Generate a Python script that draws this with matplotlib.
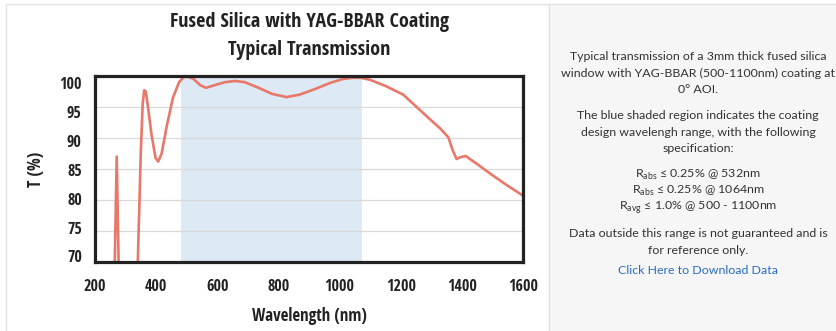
import numpy as np
import matplotlib
matplotlib.use('Agg')
import matplotlib.pyplot as plt
from matplotlib.patches import Rectangle

# transmission curve
wavelength = [250, 271, 292, 320, 340, 350, 356, 361, 366, 372, 385, 398, 407, 418, 435,
              455, 475, 490, 500, 520, 545, 563, 590, 625, 658, 690, 730, 780, 827,
              870, 920, 970, 1010, 1040, 1070, 1099, 1150, 1208, 1285, 1330, 1356,
              1370, 1383, 1395, 1412, 1450, 1500, 1550, 1600]
transmission = [30, 87, 30, 20, 70, 88, 95.5, 97.7, 97.5, 95.5, 90.5, 86.8, 86.2, 87.5, 92,
                96.5, 99, 99.8, 99.9, 99.6, 98.5, 98.1, 98.5, 99.0, 99.2, 99.0, 98.2,
                97.1, 96.6, 97.0, 97.9, 98.9, 99.5, 99.7, 99.7, 99.4, 98.4, 97.0, 93.5,
                91.5, 90.1, 88.0, 86.6, 86.9, 87.1, 85.8, 84.0, 82.3, 80.7]
band = (480, 1074)
xticks = [200, 400, 600, 800, 1000, 1200, 1400, 1600]
yticks = [70, 75, 80, 85, 90, 95, 100]

notes = [
    "Typical transmission of a 3mm thick fused silica",
    "window with YAG-BBAR (500-1100nm) coating at",
    "0° AOI.",
    None,
    "The blue shaded region indicates the coating",
    "design wavelengh range, with the following",
    "specification:",
    None,
    "R$_{\\mathregular{abs}}$ ≤ 0.25% @ 532nm",
    "R$_{\\mathregular{abs}}$ ≤ 0.25% @ 1064nm",
    "R$_{\\mathregular{avg}}$ ≤ 1.0% @ 500 - 1100nm",
    None,
    "Data outside this range is not guaranteed and is",
    "for reference only.",
]

cond = ['Open Sans Condensed', 'DejaVu Sans']
W, H = 836, 331
fig = plt.figure(figsize=(W / 100, H / 100), dpi=100)

# page panels
fig.patches.append(Rectangle((6 / W, -0.1), 543 / W, 1.1 - 4 / H, transform=fig.transFigure,
                             facecolor='white', edgecolor='#e2e2e2', lw=1, zorder=-5))
fig.patches.append(Rectangle((549 / W, -0.1), 300 / W, 1.1 - 4 / H, transform=fig.transFigure,
                             facecolor='#f6f6f6', edgecolor='#e2e2e2', lw=1, zorder=-5))

ax = fig.add_axes([95 / W, (H - 262) / H, 428 / W, 186 / H])
ax.axvspan(band[0], band[1], color='#dde9f5', lw=0, zorder=0)
for v in yticks:
    ax.axhline(v, color='#d9d9d9', lw=0.9, zorder=1)
ax.plot(wavelength, transmission, color='#e8786a', lw=1.9, zorder=3)
ax.set_xlim(200, 1600)
ax.set_ylim(70, 100)
ax.set_xticks(xticks)
# the labels in the original are spread a little tighter than the grid lines
lab_pos = [98.8 - (100 - v) / 30 * 27.9 for v in yticks]
ax.set_yticks(lab_pos, labels=[str(v) for v in yticks])
for s in ax.spines.values():
    s.set_linewidth(2.3)
    s.set_color('#222222')
    s.set_zorder(4)
ax.tick_params(length=0, labelsize=11.5, colors='#222222')
ax.tick_params(axis='x', pad=12)
ax.tick_params(axis='y', pad=9.5)
for lab in ax.get_xticklabels() + ax.get_yticklabels():
    lab.set_family(cond)
    lab.set_fontweight('bold')

ax.set_xlabel('Wavelength (nm)', family=cond, fontweight='bold', fontsize=12.2,
              labelpad=9, color='#222222')
ax.set_ylabel('T (%)', family=cond, fontweight='bold', fontsize=12.2,
              labelpad=10, color='#222222')
fig.text(309 / W, 1 - 21.5 / H, 'Fused Silica with YAG-BBAR Coating', ha='center', va='center',
         family=cond, fontweight='bold', fontsize=14.5, color='#222222')
fig.text(309 / W, 1 - 50 / H, 'Typical Transmission', ha='center', va='center',
         family=cond, fontweight='bold', fontsize=14.5, color='#222222')

plt.rcParams['mathtext.fontset'] = 'custom'
plt.rcParams['mathtext.rm'] = 'Lato'
y = 57
for line in notes:
    if line is None:
        y += 10
        continue
    fig.text(698 / W, 1 - y / H, line, ha='center', va='center',
             family=['Lato', 'DejaVu Sans'], fontsize=8.9, color='#333333')
    y += 16.3
fig.text(698 / W, 1 - 271 / H, 'Click Here to Download Data', ha='center', va='center',
         family=['Lato', 'DejaVu Sans'], fontsize=8.9, color='#2b6cc4')

fig.savefig('out.png', dpi=100)
